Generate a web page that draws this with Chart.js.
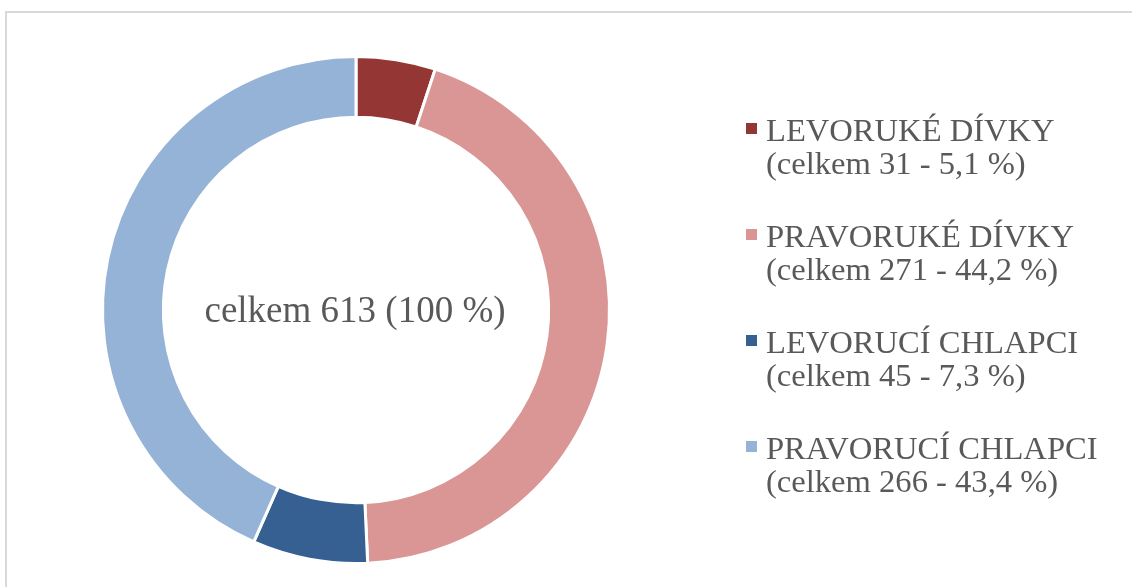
<!DOCTYPE html>
<html lang="cs">
<head>
<meta charset="utf-8">
<title>Levorukost</title>
<script src="https://cdn.jsdelivr.net/npm/chart.js@4/dist/chart.umd.min.js"></script>
<style>
  html, body { margin: 0; padding: 0; background: #fff; }
  #wrap { position: relative; width: 1132px; height: 587px; overflow: hidden; }
  #frame {
    position: absolute; left: 5px; top: 11px; width: 1200px; height: 700px;
    border: 2px solid #d9d9d9; box-sizing: border-box;
  }
  canvas { position: absolute; left: 0; top: 0; }
</style>
</head>
<body>
<div id="wrap">
  <div id="frame"></div>
  <canvas id="chart" width="1132" height="587"></canvas>
</div>
<script>
const categories = ['LEVORUKÉ DÍVKY', 'PRAVORUKÉ DÍVKY', 'LEVORUCÍ CHLAPCI', 'PRAVORUCÍ CHLAPCI'];
const counts = [31, 271, 45, 266];
const colors = ['#943634', '#D99694', '#366092', '#95B3D7'];

const textColor = '#595959';
const fontFamily = "'Liberation Serif', 'Times New Roman', serif";

const total = counts.reduce((a, b) => a + b, 0);
const pct = v => (v / total * 100).toFixed(1).replace('.', ',');

// popisek uprostred + legenda vpravo
const labelsPlugin = {
  id: 'labelsPlugin',
  afterDraw(chart) {
    const ctx = chart.ctx;
    const arc = chart.getDatasetMeta(0).data[0];
    ctx.save();
    ctx.fillStyle = textColor;
    ctx.font = '37px ' + fontFamily;
    ctx.textAlign = 'center';
    ctx.textBaseline = 'alphabetic';
    ctx.fillText('celkem ' + total + ' (100 %)', arc.x - 1, arc.y + 12);

    ctx.textAlign = 'left';
    ctx.font = '32.6px ' + fontFamily;
    chart.data.labels.forEach((name, i) => {
      const base = 141 + i * 106;
      ctx.fillStyle = colors[i];
      ctx.fillRect(746, base - 18, 11, 11);
      ctx.fillStyle = textColor;
      ctx.fillText(name, 766, base);
      const v = chart.data.datasets[0].data[i];
      ctx.fillText('(celkem ' + v + ' - ' + pct(v) + ' %)', 766, base + 33);
    });
    ctx.restore();
  }
};

new Chart(document.getElementById('chart'), {
  type: 'doughnut',
  data: {
    labels: categories,
    datasets: [{
      data: counts,
      backgroundColor: colors,
      borderColor: '#ffffff',
      borderWidth: 3
    }]
  },
  options: {
    responsive: false,
    animation: false,
    cutout: '76%',
    layout: { padding: { left: 101, right: 521, top: 55, bottom: 22 } },
    plugins: {
      legend: { display: false },
      tooltip: { enabled: false }
    }
  },
  plugins: [labelsPlugin]
});
</script>
</body>
</html>
